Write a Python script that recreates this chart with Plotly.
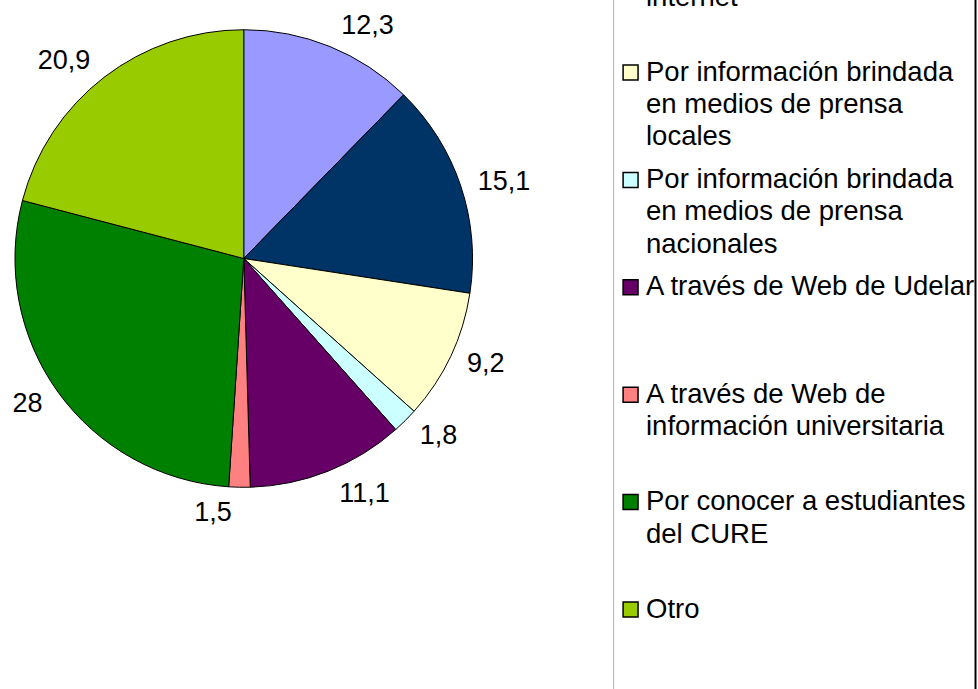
import plotly.graph_objects as go

# categories (clockwise from 12 o'clock) with legend line breaks
labels = [
    "Por recomendación\nde conocidos",
    "Por información en\ninternet",
    "Por información brindada\nen medios de prensa\nlocales",
    "Por información brindada\nen medios de prensa\nnacionales",
    "A través de Web de Udelar",
    "A través de Web de\ninformación universitaria",
    "Por conocer a estudiantes\ndel CURE",
    "Otro",
]
values = [12.3, 15.1, 9.2, 1.8, 11.1, 1.5, 28, 20.9]
colors = ["#9999FF", "#003366", "#FFFFCC", "#CCFFFF", "#660066", "#FF8080", "#008000", "#99CC00"]

W, H = 978, 689
FONT = "Liberation Sans"


def px(x):
    return x / W


def py(y):
    return 1 - y / H


flat = [l.replace("\n", " ") for l in labels]
fig = go.Figure()
# the slices
fig.add_trace(go.Pie(
    labels=flat, values=values, sort=False, direction="clockwise", rotation=0,
    marker=dict(colors=colors, line=dict(color="black", width=1)),
    textinfo="none",
    domain=dict(x=[px(12), px(471)], y=[py(488), py(29)]),
    showlegend=False, hoverinfo="label+value",
))
# same data on a slightly larger invisible pie, only to push the value labels outward
fig.add_trace(go.Pie(
    labels=flat, values=values, sort=False, direction="clockwise", rotation=0,
    marker=dict(colors=["rgba(0,0,0,0)"] * len(values), line=dict(width=0)),
    textinfo="value", textposition="outside",
    textfont=dict(family=FONT, size=27, color="black"),
    domain=dict(x=[px(2), px(481)], y=[py(498), py(19)]),
    showlegend=False, hoverinfo="skip",
))

# legend drawn by hand: items sit in fixed slots like the original
shapes = [
    dict(type="line", xref="paper", yref="paper", x0=px(612.5), x1=px(612.5), y0=py(-50), y1=py(720),
         line=dict(color="#b3b3b3", width=1)),
    dict(type="line", xref="paper", yref="paper", x0=px(975.5), x1=px(975.5), y0=py(-50), y1=py(720),
         line=dict(color="black", width=2)),
]
annotations = []
slot0 = 71 - 2 * 107.4
for i, (lab, col) in enumerate(zip(labels, colors)):
    top = slot0 + i * 107.4
    shapes.append(dict(type="rect", xref="paper", yref="paper",
                       x0=px(622), x1=px(637), y0=py(top - 6), y1=py(top + 9),
                       fillcolor=col, line=dict(color="black", width=1.5)))
    for j, line in enumerate(lab.split("\n")):
        annotations.append(dict(text=line, xref="paper", yref="paper",
                                x=px(643), y=py(top + j * 32.5), xanchor="left", yanchor="middle",
                                showarrow=False, font=dict(family=FONT, size=27.5, color="black")))

fig.update_layout(
    width=W, height=H,
    margin=dict(l=0, r=0, t=0, b=0),
    paper_bgcolor="white",
    plot_bgcolor="white",
    separators=", ",
    shapes=shapes,
    annotations=annotations,
)

fig.write_html("out.html", config={"displayModeBar": False},
               post_script="document.body.style.margin='0';")
